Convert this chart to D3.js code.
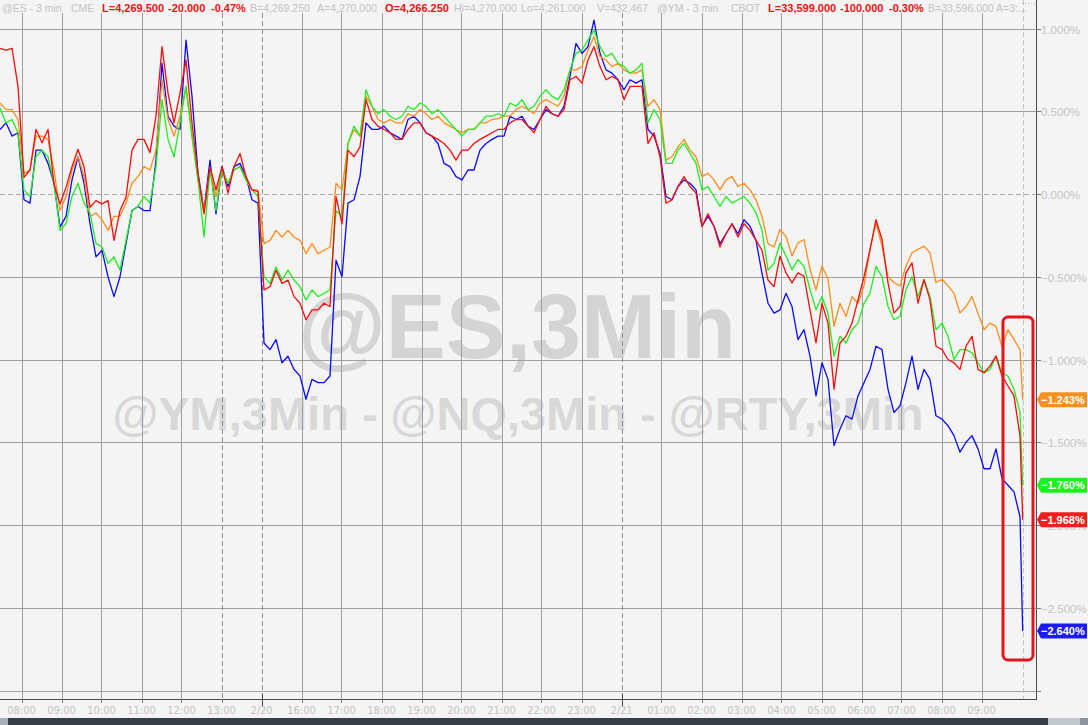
<!DOCTYPE html>
<html><head><meta charset="utf-8">
<script src="https://cdn.jsdelivr.net/npm/d3@7"></script>
<style>
html,body{margin:0;padding:0;background:#f4f4f4;}
svg{display:block;font-family:"Liberation Sans",Arial,sans-serif;}
</style></head><body>
<svg id="c" width="1088" height="725"></svg>
<script>
// ---------- data ----------
const hourLabels = ["08:00","09:00","10:00","11:00","12:00","13:00","2/20","16:00","17:00","18:00","19:00","20:00","21:00","22:00","23:00","2/21","01:00","02:00","03:00","04:00","05:00","06:00","07:00","08:00","09:00"];
const dayBreakLabels = ["2/20","2/21"];
const sessionBreakLabels = ["13:00"];
const yTickValues = [1.0,0.5,0,-0.5,-1.0,-1.5,-2.0,-2.5,-3.0];
const seriesNames = ["@YM","@ES","@NQ","@RTY"];
const seriesColors = ["#ff8c1a","#1fee1f","#ff0a0a","#0a0aff"];
const badgeColors = ["#f8901f","#17f517","#f31d1d","#1b1bf5"];
const lastValues = [-1.243,-1.760,-1.968,-2.640];
// samples every 9 minutes (hours relative to 08:00 session tick)
const sampleStartHour = -0.5375, sampleStepHour = 0.15, lastSampleHour = 25.03;

const orangeVals = [0.55,0.51,0.51,0.45,0.125,0.145,0.35,0.35,0.33,0.145,-0.10,-0.015,0.145,0.225,0.105,-0.135,-0.115,-0.155,-0.22,-0.135,-0.135,-0.055,0.065,0.105,0.165,0.145,0.265,0.69,0.45,0.35,0.47,0.65,0.35,0.085,-0.10,0.145,-0.015,0.145,0.065,0.145,0.165,0.085,0.025,0.025,-0.30,
-0.28,-0.22,-0.26,-0.22,-0.26,-0.28,-0.36,-0.30,-0.36,-0.34,-0.32,0.065,0.025,0.305,0.39,0.35,0.59,0.53,0.45,0.43,0.45,0.43,0.43,0.485,0.47,0.51,0.485,0.45,0.47,0.43,0.41,0.39,0.37,0.39,0.39,0.43,0.43,0.45,0.455,0.47,0.47,0.51,
0.53,0.51,0.485,0.55,0.57,0.55,0.53,0.59,0.75,0.75,0.77,0.87,0.95,0.83,0.81,0.77,0.79,0.75,0.73,0.73,0.75,0.53,0.57,0.51,0.205,0.225,0.285,0.33,0.265,0.225,0.105,0.125,0.085,0.025,0.085,0.105,0.045,0.065,0.025,-0.035,-0.135,-0.30,-0.32,
-0.215,-0.255,-0.375,-0.295,-0.275,-0.455,-0.58,-0.435,-0.515,-0.80,-0.66,-0.74,-0.62,-0.66,-0.555,-0.335,-0.175,-0.315,-0.50,-0.535,-0.555,-0.435,-0.355,-0.335,-0.315,-0.355,-0.535,-0.515,-0.555,-0.60,-0.72,-0.68,-0.62,-0.72,-0.82,-0.78,-0.80,-0.92,-0.82,-0.88,-0.94,-1.243];

const greenVals = [0.52,0.43,0.45,0.37,0.025,-0.015,0.225,0.265,0.225,0.065,-0.22,-0.18,-0.015,0.065,-0.055,-0.115,-0.30,-0.32,-0.42,-0.38,-0.46,-0.28,-0.10,-0.075,-0.015,-0.055,0.165,0.57,0.33,0.225,0.43,0.65,0.35,0.085,-0.26,0.145,-0.10,0.145,0.065,0.145,0.165,0.085,0.025,-0.015,-0.50,
-0.54,-0.44,-0.52,-0.46,-0.52,-0.56,-0.64,-0.58,-0.62,-0.60,-0.58,-0.10,-0.135,0.305,0.41,0.35,0.63,0.53,0.485,0.51,0.47,0.45,0.47,0.53,0.51,0.55,0.53,0.485,0.51,0.47,0.43,0.39,0.35,0.39,0.39,0.43,0.47,0.47,0.485,0.47,0.55,0.53,
0.57,0.51,0.53,0.59,0.63,0.59,0.57,0.63,0.75,0.85,0.87,0.93,0.99,0.89,0.83,0.85,0.79,0.77,0.73,0.75,0.79,0.43,0.51,0.45,0.185,0.185,0.265,0.305,0.245,0.185,0.025,0.045,-0.015,-0.075,-0.015,-0.055,-0.035,-0.015,-0.055,-0.115,-0.22,-0.46,-0.42,
-0.296,-0.376,-0.457,-0.396,-0.437,-0.577,-0.70,-0.62,-0.72,-0.98,-0.86,-0.90,-0.82,-0.78,-0.66,-0.60,-0.437,-0.50,-0.68,-0.76,-0.74,-0.577,-0.50,-0.62,-0.517,-0.62,-0.82,-0.78,-0.86,-1.00,-0.94,-0.94,-0.96,-1.02,-1.08,-1.06,-0.98,-1.08,-1.10,-1.18,-1.32,-1.760];

const redVals = [0.88,0.87,0.88,0.65,0.10,0.145,0.39,0.31,0.39,0.06,-0.06,0.04,0.165,0.27,0.165,-0.08,-0.04,-0.06,-0.04,-0.28,-0.10,-0.02,0.265,0.33,0.33,0.25,0.47,0.89,0.61,0.43,0.61,0.81,0.43,0.125,-0.12,0.165,0.025,0.165,0.005,0.165,0.245,0.105,0.025,0.015,-0.58,
-0.56,-0.46,-0.54,-0.52,-0.62,-0.66,-0.76,-0.70,-0.70,-0.66,-0.68,-0.015,-0.18,0.265,0.225,0.285,0.57,0.45,0.41,0.39,0.37,0.33,0.33,0.39,0.43,0.43,0.37,0.35,0.33,0.305,0.265,0.205,0.265,0.265,0.305,0.33,0.35,0.37,0.39,0.39,0.43,0.45,
0.45,0.41,0.37,0.45,0.53,0.485,0.47,0.51,0.69,0.71,0.67,0.81,0.89,0.77,0.69,0.71,0.69,0.57,0.65,0.65,0.65,0.305,0.37,0.225,-0.055,-0.035,0.045,0.105,0.045,0.005,-0.195,-0.12,-0.195,-0.32,-0.24,-0.18,-0.26,-0.18,-0.22,-0.28,-0.34,-0.52,-0.56,
-0.376,-0.477,-0.537,-0.477,-0.497,-0.70,-0.90,-0.66,-0.78,-1.18,-0.90,-0.86,-0.78,-0.64,-0.50,-0.336,-0.155,-0.275,-0.537,-0.72,-0.68,-0.477,-0.416,-0.66,-0.517,-0.64,-0.92,-0.94,-1.00,-1.02,-1.06,-0.92,-0.86,-1.06,-1.08,-1.04,-0.98,-1.10,-1.16,-1.22,-1.46,-1.968];

const blueVals = [0.39,0.43,0.35,0.37,-0.035,-0.055,0.265,0.265,0.185,0.065,-0.20,-0.135,0.085,0.225,0.065,-0.18,-0.38,-0.34,-0.50,-0.62,-0.50,-0.30,-0.10,-0.075,-0.10,-0.10,0.205,0.79,0.47,0.41,0.39,0.93,0.59,0.125,-0.10,0.205,-0.12,0.165,0.045,0.165,0.185,0.105,-0.035,-0.055,-0.90,
-0.94,-0.88,-1.02,-0.98,-1.06,-1.10,-1.24,-1.12,-1.14,-1.14,-1.10,-0.40,-0.50,-0.055,-0.035,0.105,0.43,0.39,0.39,0.41,0.37,0.35,0.33,0.45,0.47,0.43,0.37,0.35,0.305,0.185,0.165,0.105,0.085,0.145,0.145,0.265,0.305,0.33,0.35,0.35,0.47,0.45,
0.47,0.41,0.39,0.45,0.51,0.485,0.47,0.53,0.71,0.91,0.85,0.89,1.05,0.85,0.75,0.73,0.69,0.63,0.69,0.67,0.69,0.39,0.35,0.245,-0.015,-0.035,0.045,0.085,0.065,0.025,-0.195,-0.135,-0.195,-0.30,-0.24,-0.18,-0.24,-0.155,-0.195,-0.28,-0.48,-0.66,-0.72,
-0.70,-0.60,-0.68,-0.88,-0.82,-0.98,-1.22,-1.02,-1.12,-1.52,-1.42,-1.34,-1.36,-1.22,-1.14,-1.06,-0.92,-0.94,-1.18,-1.32,-1.28,-1.14,-0.98,-1.18,-1.06,-1.12,-1.34,-1.36,-1.40,-1.46,-1.56,-1.50,-1.46,-1.54,-1.66,-1.66,-1.54,-1.72,-1.76,-1.80,-1.95,-2.640];

const headerItems = [
  ["@ES - 3 min","g"],["CME","g"],["L=4,269.500","r"],["-20.000","r"],["-0.47%","r"],
  ["B=4,269.250","g"],["A=4,270.000","g"],["O=4,266.250","r"],["Hi=4,270.000","g"],["Lo=4,261.000","g"],
  ["V=432,467","g"],["@YM - 3 min","g"],["CBOT","g"],["L=33,599.000","r"],["-100.000","r"],["-0.30%","r"],
  ["B=33,596.000","g"],["A=3:...","g"]];
const headerX = [2,71,102,168,211,250,317,385,454,521,597,657,731,768,840,889,928,996];

// ---------- layout ----------
const svg = d3.select("#c");
const W = 1088, H = 725;
const plotRight = 1036, plotTop = 13, axisY = 699;
const x = d3.scaleLinear().domain([0, 24]).range([21.5, 981.5]);
const y = d3.scaleLinear().domain([0, -1]).range([194, 359.5]);

svg.append("rect").attr("width", W).attr("height", H).attr("fill", "#f4f4f4");

// watermarks
svg.append("text").attr("x", 517).attr("y", 358).attr("text-anchor", "middle")
  .attr("font-size", 90).attr("font-weight", "bold").attr("fill", "#d4d4d4")
  .attr("font-family", "'Liberation Sans',Arial,sans-serif").text("@ES,3Min");
svg.append("text").attr("x", 518).attr("y", 430).attr("text-anchor", "middle")
  .attr("font-size", 47).attr("font-weight", "bold").attr("fill", "#d8d8d8")
  .attr("font-family", "'Liberation Sans',Arial,sans-serif").text("@YM,3Min - @NQ,3Min - @RTY,3Min");

// horizontal grid
const grid = svg.append("g");
yTickValues.forEach(v => {
  grid.append("line").attr("x1", 0).attr("x2", plotRight).attr("y1", Math.round(y(v)) + 0.5).attr("y2", Math.round(y(v)) + 0.5)
    .attr("stroke", v === 0 ? "#a8a8a8" : "#a0a0a0").attr("stroke-width", 1)
    .attr("stroke-dasharray", v === 0 ? "5,3" : null);
});
// vertical grid
hourLabels.forEach((lab, i) => {
  const xx = Math.round(x(i)) + 0.5;
  const isBreak = dayBreakLabels.includes(lab) || sessionBreakLabels.includes(lab);
  grid.append("line").attr("x1", xx).attr("x2", xx).attr("y1", plotTop).attr("y2", axisY)
    .attr("stroke", isBreak ? "#8e8e8e" : "#a0a0a0").attr("stroke-dasharray", isBreak ? "5,3" : null);
});
// "now" line
const nowX = x(lastSampleHour);
grid.append("line").attr("x1", Math.round(nowX) + 0.5).attr("x2", Math.round(nowX) + 0.5).attr("y1", 0).attr("y2", axisY)
  .attr("stroke", "#c4c4c4").attr("stroke-dasharray", "5,3");

// series
const hoursOf = arr => arr.map((_, i) => i === arr.length - 1 ? lastSampleHour : sampleStartHour + i * sampleStepHour);
const line = d3.line().x(d => x(d[0])).y(d => y(d[1]));
const allSeries = [blueVals, orangeVals, greenVals, redVals];
const allColors = [seriesColors[3], seriesColors[0], seriesColors[1], seriesColors[2]];
allSeries.forEach((vals, si) => {
  const hs = hoursOf(vals);
  svg.append("path").datum(vals.map((v, i) => [hs[i], v]))
    .attr("d", line).attr("fill", "none").attr("stroke", allColors[si])
    .attr("stroke-width", 1.3).attr("stroke-linejoin", "round");
});

// highlight box
svg.append("rect").attr("x", 1003).attr("y", 317).attr("width", 30).attr("height", 343).attr("rx", 5)
  .attr("fill", "none").attr("stroke", "#e3141c").attr("stroke-width", 3);

// x axis
svg.append("line").attr("x1", 0).attr("x2", plotRight).attr("y1", axisY + 0.5).attr("y2", axisY + 0.5).attr("stroke", "#4a4a4a");
const xa = svg.append("g");
hourLabels.forEach((lab, i) => {
  const xx = Math.round(x(i)) + 0.5;
  const isBreak = dayBreakLabels.includes(lab);
  xa.append("line").attr("x1", xx).attr("x2", xx).attr("y1", isBreak ? axisY - 5 : axisY).attr("y2", isBreak ? axisY + 7 : axisY + 4)
    .attr("stroke", isBreak ? "#444" : "#777");
  xa.append("text").attr("x", x(i)).attr("y", axisY + 15).attr("text-anchor", "middle")
    .attr("font-size", 11).attr("fill", "#c2c2c2").attr("font-family", "'DejaVu Sans Condensed','Liberation Sans',Arial,sans-serif").text(lab);
});

// right axis
svg.append("line").attr("x1", plotRight + 0.5).attr("x2", plotRight + 0.5).attr("y1", 0).attr("y2", axisY + 1).attr("stroke", "#4a4a4a");
svg.append("line").attr("x1", plotRight - 14).attr("x2", plotRight).attr("y1", 3.5).attr("y2", 3.5).attr("stroke", "#bbb").attr("stroke-dasharray", "1,2");
yTickValues.forEach(v => {
  const yy = Math.round(y(v)) + 0.5;
  svg.append("line").attr("x1", plotRight).attr("x2", plotRight + 5).attr("y1", yy).attr("y2", yy).attr("stroke", "#777");
  if (v > -3) {
    svg.append("text").attr("x", plotRight + 5).attr("y", yy + 4).attr("font-size", 11.5).attr("fill", "#c4c4c4")
      .text(d3.format(".3f")(v) + "%");
  }
});

// last value badges
lastValues.forEach((v, i) => {
  const cy = y(v);
  const p = d3.path();
  p.moveTo(plotRight + 1, cy); p.lineTo(plotRight + 5, cy - 7.5); p.lineTo(1087, cy - 7.5);
  p.lineTo(1087, cy + 7.5); p.lineTo(plotRight + 5, cy + 7.5); p.closePath();
  svg.append("path").attr("d", p.toString()).attr("fill", badgeColors[i]);
  svg.append("text").attr("x", plotRight + 5).attr("y", cy + 4).attr("font-size", 11).attr("font-weight", "bold")
    .attr("fill", "#fff").text(d3.format(".3f")(v) + "%");
});

// header
const hdr = svg.append("g");
headerItems.forEach((it, i) => {
  hdr.append("text").attr("x", headerX[i]).attr("y", 12)
    .attr("font-size", it[1] === "r" ? 11 : 10.5).attr("font-weight", it[1] === "r" ? "bold" : "normal")
    .attr("fill", it[1] === "r" ? "#ee1111" : "#c3c3c3").text(it[0]);
});

// bottom scroll bar
svg.append("rect").attr("x", 0).attr("y", 718).attr("width", 8).attr("height", 7).attr("fill", "#a8afb9");
svg.append("rect").attr("x", 8).attr("y", 718).attr("width", 1040).attr("height", 7).attr("fill", "#373e47");
svg.append("rect").attr("x", 1048).attr("y", 718).attr("width", 32).attr("height", 7).attr("fill", "#c3c7ce");
svg.append("rect").attr("x", 1080).attr("y", 718).attr("width", 8).attr("height", 7).attr("fill", "#8d949e");
</script>
</body></html>
